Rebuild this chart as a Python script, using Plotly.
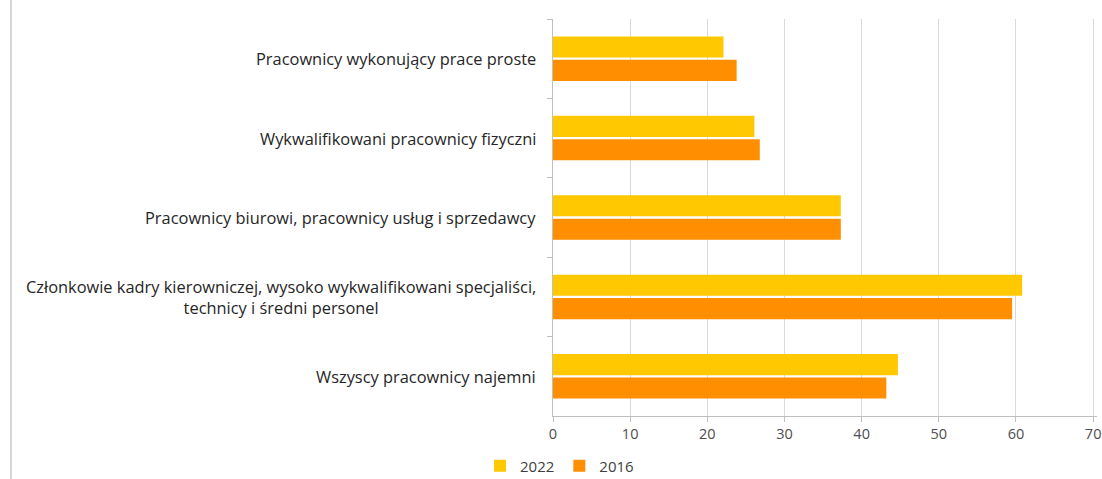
import plotly.graph_objects as go

# Occupational groups, listed top to bottom
categories = [
    "Pracownicy wykonujący prace proste",
    "Wykwalifikowani pracownicy fizyczni",
    "Pracownicy biurowi, pracownicy usług i sprzedawcy",
    "Członkowie kadry kierowniczej, wysoko wykwalifikowani specjaliści,<br>technicy i średni personel",
    "Wszyscy pracownicy najemni",
]
values_2022 = [22.1, 26.1, 37.3, 60.8, 44.7]
values_2016 = [23.8, 26.8, 37.3, 59.5, 43.2]
series_names = ["2022", "2016"]
x_ticks = [0, 10, 20, 30, 40, 50, 60, 70]

W, H = 1102, 479
ml, mr, mt, mb = 553, 5, 19, 63
pw = W - ml - mr
ph = H - mt - mb

FONT = "Open Sans"
GRID = "#d9d9d9"
AXIS = "#bfbfbf"

fig = go.Figure()
fig.add_trace(go.Bar(
    y=categories, x=values_2022, orientation="h", name=series_names[0],
    marker=dict(color="#FFC800", line=dict(width=0)),
))
fig.add_trace(go.Bar(
    y=categories, x=values_2016, orientation="h", name=series_names[1],
    marker=dict(color="#FF8F00", line=dict(width=0)),
))

# Category labels as centred multi-line annotations
annotations = []
for c in categories:
    annotations.append(dict(
        x=0, xref="paper", y=c, yref="y", text=c, showarrow=False,
        xanchor="right", yanchor="middle", align="center", xshift=-15,
        font=dict(family=FONT, size=16.4, color="#262626"),
    ))

fig.update_layout(
    width=W, height=H,
    margin=dict(l=ml, r=mr, t=mt, b=mb, pad=0, autoexpand=False),
    paper_bgcolor="white", plot_bgcolor="white",
    barmode="group", bargap=0.41, bargroupgap=0.1,
    font=dict(family=FONT, size=14, color="#595959"),
    xaxis=dict(
        range=[0, 70.5], tickvals=x_ticks, showgrid=True, gridcolor=GRID, gridwidth=1,
        showline=True, linecolor=AXIS, linewidth=1, zeroline=False,
        ticks="outside", ticklen=5, tickcolor=AXIS,
        tickfont=dict(family=FONT, size=14.5, color="#4d4d4d"),
        automargin=False,
    ),
    yaxis=dict(
        autorange="reversed", showticklabels=False, showgrid=False,
        showline=True, linecolor=AXIS, linewidth=1,
        ticks="outside", ticklen=5, tickcolor=AXIS, tickson="boundaries",
        automargin=False,
    ),
    legend=dict(
        orientation="h", x=(480 - ml) / pw, xanchor="left",
        y=(H - mb - 466) / ph, yanchor="middle",
        font=dict(family=FONT, size=15, color="#404040"),
        bgcolor="rgba(0,0,0,0)", itemwidth=30,
    ),
    annotations=annotations,
    shapes=[dict(
        type="line", xref="paper", yref="paper",
        x0=(11 - ml) / pw, x1=(11 - ml) / pw,
        y0=-0.3, y1=(H - mb) / ph,
        line=dict(color="#c8c8c8", width=1.5),
    )],
)

fig.write_html("out.html")
